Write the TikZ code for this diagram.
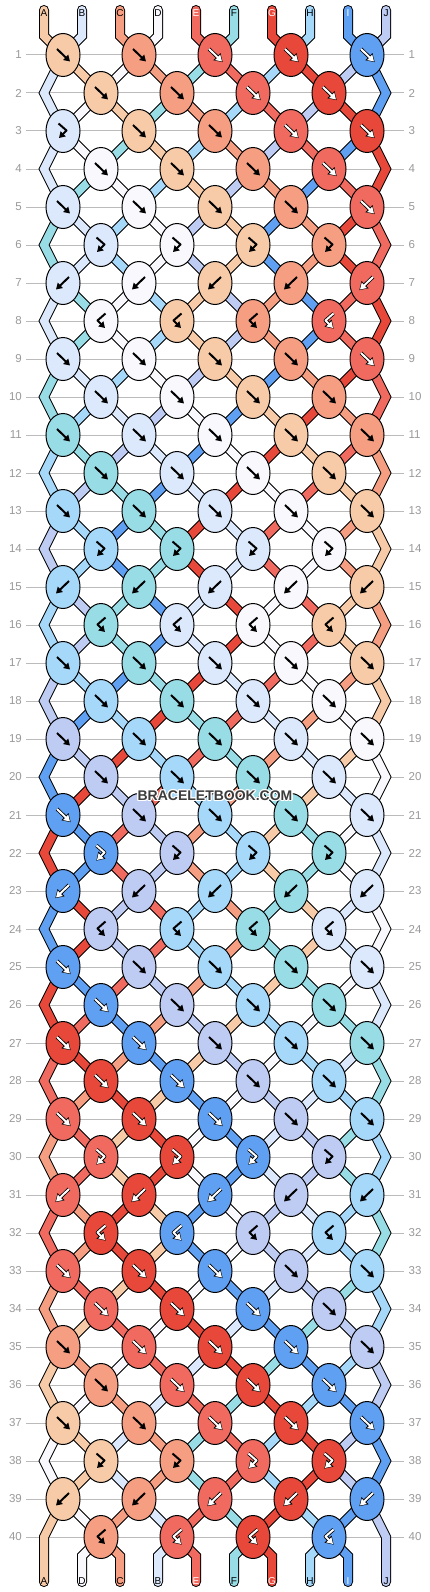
\documentclass[tikz,border=0pt]{standalone}
\usepackage{fontspec}
\setmainfont{Liberation Sans}
\usetikzlibrary{shapes.geometric,arrows.meta}

% string colours
\definecolor{sA}{HTML}{F8CBA8}
\definecolor{sB}{HTML}{DCE9FC}
\definecolor{sC}{HTML}{F69E82}
\definecolor{sD}{HTML}{F9F8FD}
\definecolor{sE}{HTML}{F06A60}
\definecolor{sF}{HTML}{98DCE6}
\definecolor{sG}{HTML}{E8483A}
\definecolor{sH}{HTML}{A6D8FA}
\definecolor{sI}{HTML}{60A0F2}
\definecolor{sJ}{HTML}{BECBF2}
% arrow colour and arrow rim on a knot of that string
\colorlet{aA}{black}\colorlet{aB}{black}\colorlet{aC}{black}\colorlet{aD}{black}
\colorlet{aE}{white}\colorlet{aF}{black}\colorlet{aG}{white}\colorlet{aH}{black}
\colorlet{aI}{white}\colorlet{aJ}{black}
\colorlet{mA}{sA}\colorlet{mB}{sB}\colorlet{mC}{sC}\colorlet{mD}{sD}
\colorlet{mE}{black}\colorlet{mF}{sF}\colorlet{mG}{black}\colorlet{mH}{sH}
\colorlet{mI}{black}\colorlet{mJ}{sJ}
\definecolor{gridgray}{HTML}{BBBBBB}
\definecolor{numgray}{HTML}{999999}
\definecolor{markgray}{HTML}{3C3C3C}

\pgfdeclarelayer{grid}
\pgfdeclarelayer{strback}
\pgfdeclarelayer{strfront}
\pgfsetlayers{grid,strback,strfront,main}

\tikzset{
  knot/.style={ellipse, draw=black, line width=1pt, inner sep=0pt,
    minimum width=34pt, minimum height=43pt},
  strout/.style={line width=10pt, draw=black, line cap=round, line join=miter},
  strin/.style={line width=8pt, line cap=round, line join=miter},
  rowline/.style={draw=gridgray, line width=1pt},
  rownum/.style={text=numgray, font=\fontsize{11.5}{12}\selectfont, inner sep=0pt},
  strlabel/.style={font=\fontsize{10}{11}\selectfont, inner sep=0pt},
  tip/.style={-{Triangle[length=6pt,width=7pt]}, line width=2pt, line join=round},
  tipback/.style={-{Triangle[length=8pt,width=9.5pt]}, line width=3.6pt,
    line join=round, shorten >=-1pt},
  wmark/.style={font=\bfseries\fontsize{14}{16}\selectfont, inner sep=0pt},
}

% arrow inside a knot: #1 type, #2 string shown
\newcommand\knotmark[2]{%
  \if#1f\def\markpath{(-6,-6) -- (7,6.5)}\fi
  \if#1b\def\markpath{(6,-6) -- (-7,6.5)}\fi
  \if#1F\def\markpath{(-4.5,-7.5) -- (3.5,-0.5) -- (-4,7)}\fi
  \if#1B\def\markpath{(4.5,-7.5) -- (-3.5,-0.5) -- (4,7)}\fi
  \draw[tipback, draw=m#2] \markpath;
  \draw[tip, draw=a#2] \markpath;
}

\newcommand\swapstr{%
  \expandafter\xdef\csname pos\pleft\endcsname{\strR}%
  \expandafter\xdef\csname pos\pright\endcsname{\strL}}

% one knot: #1 row, #2 knot number, #3 type (f, b, F = fb, B = bf)
\newcommand\tieknot[3]{%
  \pgfmathtruncatemacro\pleft{mod(#1,2)==1 ? 2*#2-1 : 2*#2}%
  \pgfmathtruncatemacro\pright{\pleft+1}%
  \edef\strL{\csname pos\pleft\endcsname}%
  \edef\strR{\csname pos\pright\endcsname}%
  \edef\shown{\strL}%
  \if#3b\edef\shown{\strR}\fi
  \if#3B\edef\shown{\strR}\fi
  \node[knot, fill=s\shown] (k#1-#2) at ({25+38*\pleft},{17+38*#1}) {};
  \begin{scope}[shift={(k#1-#2.center)}]
    \knotmark{#3}{\shown}
  \end{scope}
  \edef\segs{%
    \noexpand\begin{pgfonlayer}{strback}%
    \noexpand\draw[strout] \csname run\pleft\endcsname -- (k#1-#2.center);
    \noexpand\draw[strout] \csname run\pright\endcsname -- (k#1-#2.center);
    \noexpand\end{pgfonlayer}%
    \noexpand\begin{pgfonlayer}{strfront}%
    \noexpand\draw[strin, draw=s\strL] \csname run\pleft\endcsname -- (k#1-#2.center);
    \noexpand\draw[strin, draw=s\strR] \csname run\pright\endcsname -- (k#1-#2.center);
    \noexpand\end{pgfonlayer}}%
  \segs
  \expandafter\xdef\csname run\pleft\endcsname{(k#1-#2.center)}%
  \expandafter\xdef\csname run\pright\endcsname{(k#1-#2.center)}%
  \if#3f\swapstr\fi
  \if#3b\swapstr\fi
}

% outer strings bend out on even rows
\newcommand\edgerun[1]{%
  \ifodd#1\relax\else
    \coordinate (eL#1) at (44,{17+38*#1});
    \coordinate (eR#1) at (386,{17+38*#1});
    \expandafter\xdef\csname run1\endcsname{\csname run1\endcsname -- (eL#1)}%
    \expandafter\xdef\csname run10\endcsname{\csname run10\endcsname -- (eR#1)}%
  \fi}

\newcommand\tierow[2]{%
  \foreach \kt [count=\kn] in {#2} {\tieknot{#1}{\kn}{\kt}}%
  \edgerun{#1}}

\begin{document}
\begin{tikzpicture}[x=1pt,y=-1pt]
\useasboundingbox (0,0) rectangle (430,1592);
\begin{pgfonlayer}{grid}
  \fill[white] (0,0) rectangle (430,1592);
  \foreach \r in {1,...,40} {
    \draw[rowline] (26,17+38*\r) -- (404,17+38*\r);
    \node[rownum, anchor=east] (nl\r) at (22,17+38*\r) {\r};
    \node[rownum, anchor=west] (nr\r) at (408.5,17+38*\r) {\r};
  }
\end{pgfonlayer}

% strings at the top
\foreach \s [count=\p] in {A,B,C,D,E,F,G,H,I,J} {
  \coordinate (t\p) at ({6+38*\p},10);
  \coordinate (tb\p) at ({6+38*\p},36);
  \expandafter\xdef\csname pos\p\endcsname{\s}
  \expandafter\xdef\csname run\p\endcsname{(t\p) -- (tb\p)}
  \node[strlabel, text=a\s] (top\p) at ({6+38*\p},12.7) {\s};
}

\tierow{1}{f,f,f,f,f}
\tierow{2}{f,f,f,f}
\tierow{3}{F,f,f,f,f}
\tierow{4}{f,f,f,f}
\tierow{5}{f,f,f,f,f}
\tierow{6}{F,F,F,F}
\tierow{7}{b,b,b,b,b}
\tierow{8}{B,B,B,B}
\tierow{9}{f,f,f,f,f}
\tierow{10}{f,f,f,f}
\tierow{11}{f,f,f,f,f}
\tierow{12}{f,f,f,f}
\tierow{13}{f,f,f,f,f}
\tierow{14}{F,F,F,F}
\tierow{15}{b,b,b,b,b}
\tierow{16}{B,B,B,B}
\tierow{17}{f,f,f,f,f}
\tierow{18}{f,f,f,f}
\tierow{19}{f,f,f,f,f}
\tierow{20}{f,f,f,f}
\tierow{21}{f,f,f,f,f}
\tierow{22}{F,F,F,F}
\tierow{23}{b,b,b,b,b}
\tierow{24}{B,B,B,B}
\tierow{25}{f,f,f,f,f}
\tierow{26}{f,f,f,f}
\tierow{27}{f,f,f,f,f}
\tierow{28}{f,f,f,f}
\tierow{29}{f,f,f,f,f}
\tierow{30}{F,F,F,F}
\tierow{31}{b,b,b,b,b}
\tierow{32}{B,B,B,B}
\tierow{33}{f,f,f,f,f}
\tierow{34}{f,f,f,f}
\tierow{35}{f,f,f,f,f}
\tierow{36}{f,f,f,f}
\tierow{37}{f,f,f,f,f}
\tierow{38}{F,F,F,F}
\tierow{39}{b,b,b,b,b}
\tierow{40}{B,B,B,B}

% strings at the bottom
\foreach \p in {1,...,10} {
  \coordinate (bb\p) at ({6+38*\p},1556);
  \coordinate (be\p) at ({6+38*\p},1582);
  \edef\segs{%
    \noexpand\begin{pgfonlayer}{strback}%
    \noexpand\draw[strout] \csname run\p\endcsname -- (bb\p) -- (be\p);
    \noexpand\end{pgfonlayer}%
    \noexpand\begin{pgfonlayer}{strfront}%
    \noexpand\draw[strin, draw=s\csname pos\p\endcsname] \csname run\p\endcsname -- (bb\p) -- (be\p);
    \noexpand\end{pgfonlayer}}%
  \segs
  \edef\s{\csname pos\p\endcsname}
  \node[strlabel, text=a\s] (bot\p) at ({6+38*\p},1580.7) {\s};
}

% watermark
\foreach \a in {0,45,...,315}
  \node[wmark, text=white] (halo\a) at ([shift={(\a:1.3)}]215,795.5) {BRACELETBOOK.COM};
\node[wmark, text=markgray] (mark) at (215,795.5) {BRACELETBOOK.COM};
\end{tikzpicture}
\end{document}
